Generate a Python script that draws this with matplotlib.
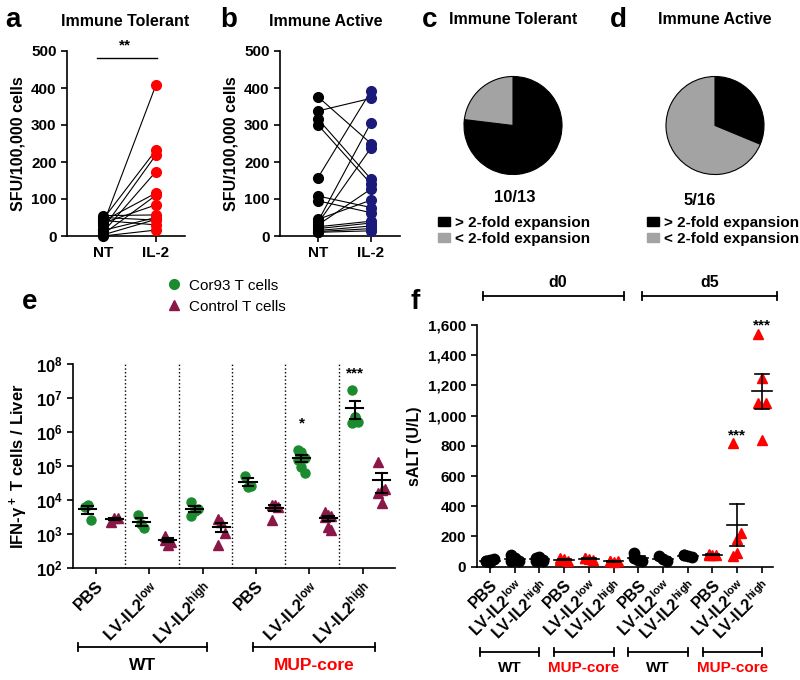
import numpy as np
import matplotlib
matplotlib.use('Agg')
import matplotlib.pyplot as plt
from matplotlib.lines import Line2D
from matplotlib.patches import Patch
from matplotlib.transforms import blended_transform_factory
from matplotlib.ticker import FuncFormatter, LogLocator, NullFormatter

plt.rcParams['font.family'] = ['Liberation Sans', 'DejaVu Sans']
plt.rcParams['font.weight'] = 'bold'
plt.rcParams['axes.labelweight'] = 'bold'
plt.rcParams['mathtext.default'] = 'regular'
plt.rcParams['axes.linewidth'] = 1.2

W, H = 800, 680

# panel a / b : SFU per 100,000 cells, NT vs IL-2 (paired)
a_nt = [30, 45, 20, 10, 40, 5, 35, 55, 15, 3, 50, 42, 0]
a_il2 = [408, 232, 219, 174, 116, 110, 84, 57, 50, 45, 43, 30, 16]
b_nt = [376, 338, 316, 300, 158, 108, 95, 45, 40, 35, 30, 25, 20, 15, 10, 12]
b_il2 = [250, 372, 154, 141, 392, 77, 63, 97, 306, 238, 127, 40, 35, 27, 14, 20]
pair_labels = ['NT', 'IL-2']

# panel c / d : fold expansion counts
c_counts = [10, 3]
d_counts = [5, 11]
pie_legend = ['> 2-fold expansion', '< 2-fold expansion']

# panel e : IFN-g+ T cells / liver
e_groups = ['PBS', 'LV-IL2$^{low}$', 'LV-IL2$^{high}$', 'PBS', 'LV-IL2$^{low}$', 'LV-IL2$^{high}$']
e_cor93 = [[6.4e3, 7.2e3, 2.6e3], [3.6e3, 2.0e3, 1.5e3], [8.7e3, 5.0e3, 5.5e3, 3.5e3],
           [5.3e4, 2.5e4, 2.7e4], [3.0e5, 2.7e5, 1.7e5, 1.5e5, 9.8e4, 6.5e4],
           [1.7e7, 2.9e6, 2.0e6, 1.9e6, 2.8e6]]
e_ctrl = [[2.3e3, 3.0e3, 3.1e3], [900, 490, 600, 680], [2.8e3, 2.3e3, 1.1e3, 490],
          [7.2e3, 7.4e3, 6.5e3, 2.6e3], [4.5e3, 3.6e3, 3.4e3, 3.2e3, 1.6e3, 1.3e3],
          [1.3e5, 2.0e4, 2.1e4, 1.6e4, 8.5e3]]
e_stars = {4: ('*', 1.8e6), 5: ('***', 5.5e7)}

# panel f : sALT (U/L)
f_groups = ['PBS', 'LV-IL2$^{low}$', 'LV-IL2$^{high}$'] * 4
f_vals = [[35, 45, 50, 40, 30], [80, 45, 35, 40, 55], [60, 55, 40, 35, 65, 45],
          [55, 50, 40, 45], [60, 50, 45, 55], [40, 30, 35, 35],
          [90, 45, 40, 60], [70, 50, 40], [75, 70, 65, 80],
          [80, 80, 75, 85], [820, 185, 220, 70, 90], [1540, 1250, 1085, 1085, 840]]
f_mup = [False, False, False, True, True, True, False, False, False, True, True, True]
f_stars = {10: ('***', 870), 11: ('***', 1600)}

GREEN = '#1c8a2e'
PURPLE = '#8a1747'
NAVY = '#1a1a7a'
RED = '#ff0000'
GREY = '#a3a3a3'

fig = plt.figure(figsize=(8, 6.8), dpi=100)


def box(l, t, r, b):
    return fig.add_axes([l / W, 1 - b / H, (r - l) / W, (b - t) / H])


def ftext(x, y, s, **kw):
    fig.text(x / W, 1 - y / H, s, ha='center', va='center', **kw)


def clean(ax):
    ax.spines['top'].set_visible(False)
    ax.spines['right'].set_visible(False)
    ax.tick_params(length=4, width=1.2, labelsize=11)


def spread(n, w):
    return ((np.arange(n) % 3) - 1) * w


def mean_sem(ax, x, vals, half, cap, lw=1.5):
    v = np.asarray(vals, float)
    m = v.mean()
    s = v.std(ddof=1) / np.sqrt(len(v))
    ax.plot([x - half, x + half], [m, m], color='black', lw=lw, zorder=5)
    ax.plot([x, x], [m - s, m + s], color='black', lw=lw, zorder=5)
    for yy in (m - s, m + s):
        ax.plot([x - cap, x + cap], [yy, yy], color='black', lw=lw, zorder=5)


def bracket(ax, x0, x1, y, label, color='black', size=11, dy=15):
    tr = blended_transform_factory(ax.transData, fig.transFigure)
    yy = 1 - y / H
    cap = 4 / H
    ax.plot([x0, x1], [yy, yy], color='black', lw=1.3, transform=tr, clip_on=False)
    for xx in (x0, x1):
        ax.plot([xx, xx], [yy - cap, yy + cap], color='black', lw=1.3, transform=tr, clip_on=False)
    ax.text((x0 + x1) / 2, 1 - (y + dy) / H, label, color=color, fontsize=size,
            ha='center', va='center', transform=tr)


# ---- a, b
def paired(ax, nt, il2, col):
    for u, v in zip(nt, il2):
        ax.plot([0, 1], [u, v], color='black', lw=0.8, zorder=2, clip_on=False)
    ax.plot(np.zeros(len(nt)), nt, 'o', color='black', ms=7, zorder=3, clip_on=False)
    ax.plot(np.ones(len(il2)), il2, 'o', color=col, ms=7, zorder=3, clip_on=False)
    ax.set_ylim(0, 500)
    ax.set_yticks(range(0, 501, 100))
    ax.set_xticks([0, 1])
    ax.set_xticklabels(pair_labels)
    clean(ax)
    ax.set_ylabel('SFU/100,000 cells', fontsize=11.5, labelpad=4)


ax_a = box(67, 51, 185, 236)
ax_a.set_xlim(-0.68, 1.55)
paired(ax_a, a_nt, a_il2, RED)
ax_a.plot([-0.12, 1.02], [481, 481], color='black', lw=1, clip_on=False)
ax_a.text(0.42, 515, '**', ha='center', va='center', fontsize=11)

ax_b = box(280, 51, 400, 236)
ax_b.set_xlim(-0.72, 1.55)
paired(ax_b, b_nt, b_il2, NAVY)

ftext(13, 20, 'a', fontsize=20)
ftext(125, 22, 'Immune Tolerant', fontsize=11.5)
ftext(229, 20, 'b', fontsize=20)
ftext(326, 21, 'Immune Active', fontsize=11.5)

# ---- c, d
for (l, counts, num, nx, ny, lx) in [(463, c_counts, '10/13', 515, 197, 438),
                                     (665, d_counts, '5/16', 700, 200, 647)]:
    ax = box(l, 75, l + 100, 176)
    ax.pie(counts, colors=['black', GREY], startangle=90, counterclock=False,
           wedgeprops=dict(edgecolor='black', linewidth=0.8))
    ax.set_xlim(-1.02, 1.02)
    ax.set_ylim(-1.02, 1.02)
    ftext(nx, ny, num, fontsize=12)
    ax.legend([Patch(color='black'), Patch(color=GREY)], pie_legend, loc='upper left',
              bbox_to_anchor=(lx / W, 1 - 216 / H), bbox_transform=fig.transFigure,
              frameon=False, handlelength=0.8, handleheight=0.55, handletextpad=0.3,
              labelspacing=0.1, borderpad=0, borderaxespad=0, fontsize=11)

ftext(430, 20, 'c', fontsize=20)
ftext(513, 20, 'Immune Tolerant', fontsize=11.5)
ftext(618, 20, 'd', fontsize=20)
ftext(715, 20, 'Immune Active', fontsize=11.5)

# ---- e
ax_e = box(73.3, 364.3, 395, 568.3)
ax_e.set_yscale('log')
for i, (g, c) in enumerate(zip(e_cor93, e_ctrl)):
    xg = i - 0.25 + spread(len(g), 0.06)
    xc = i + 0.25 + spread(len(c), 0.06)
    ax_e.plot(xg, g, 'o', color=GREEN, ms=6.5, zorder=3, clip_on=False)
    ax_e.plot(xc, c, '^', color=PURPLE, ms=6.5, zorder=3, clip_on=False)
    mean_sem(ax_e, i - 0.25, g, 0.16, 0.1)
    mean_sem(ax_e, i + 0.25, c, 0.16, 0.1)
    if i < 5:
        ax_e.axvline(i + 0.45, ls=':', color='black', lw=1)
for i, (s, y) in e_stars.items():
    ax_e.text(i - 0.25, y, s, ha='center', va='center', fontsize=11)
ax_e.set_ylim(1e2, 1e8)
ax_e.set_xlim(-0.52, 5.5)
ax_e.set_yticks([10.0 ** k for k in range(2, 9)])
ax_e.yaxis.set_major_formatter(FuncFormatter(lambda v, p: '$10^{%d}$' % round(np.log10(v))))
ax_e.yaxis.set_minor_locator(LogLocator(base=10, subs=np.arange(2, 10)))
ax_e.yaxis.set_minor_formatter(NullFormatter())
ax_e.set_xticks(np.arange(6) - 0.1)
ax_e.set_xticklabels(e_groups, rotation=45, ha='right', va='top', rotation_mode='anchor')
clean(ax_e)
ax_e.tick_params(axis='y', which='minor', length=2, width=0.8)
ax_e.tick_params(axis='y', labelsize=12)
ax_e.tick_params(axis='x', labelsize=12)
ax_e.set_ylabel('IFN-γ$^+$ T cells / Liver', fontsize=12, labelpad=4)
bracket(ax_e, -0.43, 1.99, 647, 'WT', size=12.5, dy=19)
bracket(ax_e, 2.84, 5.12, 647, 'MUP-core', color=RED, size=12.5, dy=19)
ftext(30, 302, 'e', fontsize=20)
fig.legend([Line2D([], [], marker='o', ls='', color=GREEN, ms=7),
            Line2D([], [], marker='^', ls='', color=PURPLE, ms=7)],
           ['Cor93 T cells', 'Control T cells'], loc='upper left',
           bbox_to_anchor=(157 / W, 1 - 271 / H), frameon=False,
           prop=dict(weight='normal', size=11), handletextpad=0.4,
           labelspacing=0.45, borderpad=0, handlelength=1.2)

# ---- f
ax_f = box(476.7, 325, 773, 566.7)
for i, vals in enumerate(f_vals):
    xs = i + spread(len(vals), 0.16)
    if f_mup[i]:
        ax_f.plot(xs, vals, '^', color=RED, ms=7.5, zorder=3, clip_on=False)
    else:
        ax_f.plot(xs, vals, 'o', color='black', ms=7.5, zorder=3, clip_on=False)
    mean_sem(ax_f, i, vals, 0.4, 0.27, lw=1.2)
for i, (s, y) in f_stars.items():
    ax_f.text(i, y, s, ha='center', va='center', fontsize=11)
ax_f.set_ylim(0, 1600)
ax_f.set_xlim(-0.54, 11.45)
ax_f.set_yticks(range(0, 1601, 200))
ax_f.yaxis.set_major_formatter(FuncFormatter(lambda v, p: '{:,}'.format(int(v))))
ax_f.set_xticks(np.arange(12))
ax_f.set_xticklabels(f_groups, rotation=45, ha='right', va='top', rotation_mode='anchor')
clean(ax_f)
ax_f.tick_params(axis='x', labelsize=11.5)
ax_f.set_ylabel('sALT (U/L)', fontsize=11.5, labelpad=4)
for g, lab in enumerate(['WT', 'MUP-core', 'WT', 'MUP-core']):
    bracket(ax_f, 3 * g - 0.4, 3 * g + 2.0, 652, lab, color=RED if g % 2 else 'black', dy=16)
bracket(ax_f, -0.28, 5.43, 296, '', dy=0)
bracket(ax_f, 6.15, 11.6, 296, '', dy=0)
ftext(558, 282, 'd0', fontsize=11.5)
ftext(710, 282, 'd5', fontsize=11.5)
ftext(415, 302, 'f', fontsize=20)

fig.savefig('out.png', dpi=100)
